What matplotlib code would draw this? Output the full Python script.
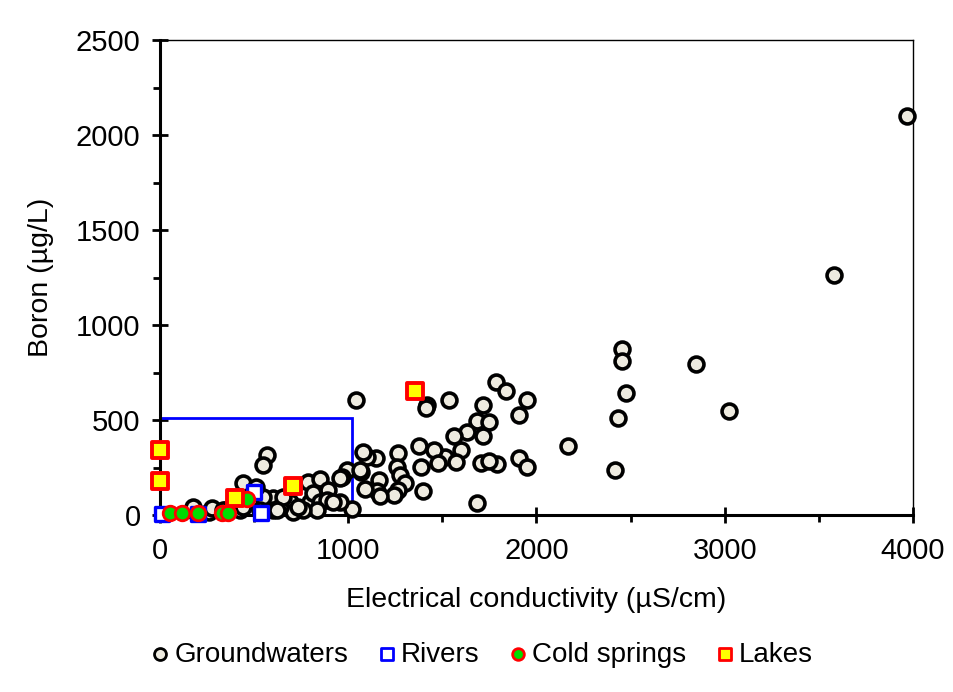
import numpy as np
import matplotlib.pyplot as plt
from matplotlib.patches import Rectangle
from matplotlib.ticker import MultipleLocator

plt.rcParams['font.family'] = ['Liberation Sans', 'DejaVu Sans']

# groundwaters: electrical conductivity (uS/cm), boron (ug/L)
gw_ec = [3970, 3580, 2850, 3025, 2455, 2455, 2475, 2433, 2415, 2165,
         1950, 1905, 1905, 1947, 1785, 1838, 1790,
         1716, 1684, 1750, 1716, 1703, 1750, 1686,
         1535, 1633, 1564, 1599, 1514, 1574,
         1418, 1413, 1378, 1455, 1477, 1386, 1397,
         1262, 1259, 1275, 1301, 1264, 1245,
         1163, 1153, 1169, 1150, 1100, 1079, 1068, 1087, 1041,
         993, 967, 1020, 956, 1062,
         568, 547, 786, 850, 892, 956, 600, 690, 706, 797, 813,
         850, 887, 919, 834, 760, 637, 600, 547, 441, 510,
         170, 260, 345, 425, 175, 276, 653, 733, 621, 531, 441, 335]
gw_b = [2100, 1265, 795, 550, 872, 812, 640, 510, 235, 362,
        605, 524, 302, 253, 700, 653, 268,
        577, 495, 489, 416, 276, 282, 65,
        605, 437, 416, 342, 305, 279,
        578, 563, 363, 342, 274, 253, 126,
        324, 253, 211, 168, 132, 103,
        182, 126, 100, 300, 305, 330, 226, 135, 605,
        235, 200, 30, 68, 237,
        316, 263, 174, 189, 132, 195, 89, 68, 16, 68, 116,
        68, 79, 68, 26, 26, 42, 26, 95, 168, 147,
        26, 16, 26, 26, 42, 37, 95, 42, 26, 26, 42, 26]

river_ec = [499, 536, 10, 200]
river_b = [121, 11, 3, 3]

spring_ec = [53, 117, 202, 329, 361, 462]
spring_b = [10, 10, 10, 10, 10, 84]

lake_ec = [0, 0, 398, 706, 1355]
lake_b = [342, 179, 89, 153, 653]

# highlighted low range box
box_ec = 1020
box_b = 510

fig = plt.figure(figsize=(9.54, 6.92), dpi=100)
ax = fig.add_axes([0.1677, 0.2558, 0.7893, 0.6862])

ax.scatter(gw_ec, gw_b, s=115, marker='o', facecolor='#eeebe0',
           edgecolor='black', linewidth=2.6, zorder=3, label='Groundwaters',
           clip_on=False)
ax.scatter(river_ec, river_b, s=110, marker='s', facecolor='white',
           edgecolor='#0000ff', linewidth=2.4, zorder=4, label='Rivers',
           clip_on=False)
ax.scatter(spring_ec, spring_b, s=110, marker='o', facecolor='#00dd00',
           edgecolor='#ff0000', linewidth=2.0, zorder=5, label='Cold springs',
           clip_on=False)
ax.scatter(lake_ec, lake_b, s=130, marker='s', facecolor='#ffff00',
           edgecolor='#ff0000', linewidth=2.8, zorder=6, label='Lakes',
           clip_on=False)

ax.add_patch(Rectangle((0, 0), box_ec, box_b, fill=False, edgecolor='#0000ff',
                       linewidth=2.0, zorder=2.5, clip_on=False))

ax.set_xlim(0, 4000)
ax.set_ylim(0, 2500)
ax.xaxis.set_major_locator(MultipleLocator(1000))
ax.xaxis.set_minor_locator(MultipleLocator(500))
ax.yaxis.set_major_locator(MultipleLocator(500))
ax.yaxis.set_minor_locator(MultipleLocator(250))
ax.tick_params(which='major', direction='inout', length=12, width=2,
               labelsize=21)
ax.tick_params(axis='x', which='major', pad=10)
ax.tick_params(axis='y', which='major', pad=8)
ax.tick_params(which='minor', direction='out', length=5, width=2)

for side in ['left', 'bottom']:
    ax.spines[side].set_linewidth(2.2)
for side in ['top', 'right']:
    ax.spines[side].set_linewidth(1.0)

ax.set_xlabel('Electrical conductivity (µS/cm)', fontsize=20.5, labelpad=16)
ax.set_ylabel('Boron (µg/L)', fontsize=20.5, labelpad=16)

leg = fig.legend(loc='center', bbox_to_anchor=(0.503, 0.054), ncol=4,
                 frameon=False, fontsize=20, handletextpad=0.0,
                 columnspacing=0.9, markerscale=0.8, handlelength=1.0)
for h in leg.legend_handles:
    h.set_linewidth(2.0)

fig.savefig('out.png', dpi=100)
